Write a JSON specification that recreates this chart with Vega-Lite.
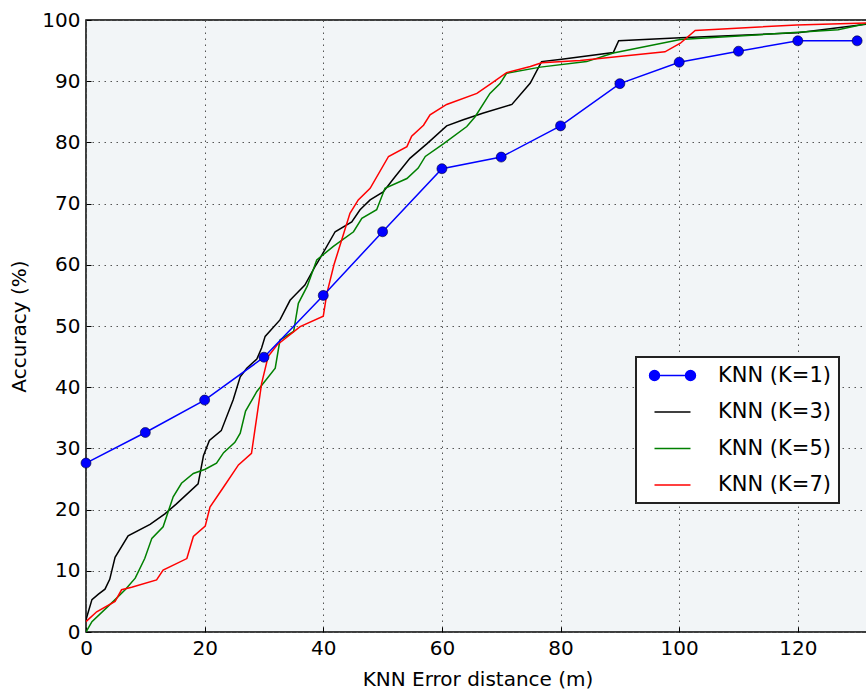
{
  "$schema": "https://vega.github.io/schema/vega-lite/v6.json",
  "autosize": {"type": "none"},
  "padding": {"left": 86, "top": 20, "right": 0, "bottom": 63},
  "width": 783,
  "height": 612,
  "background": "white",
  "config": {
    "view": {"fill": "#f2f5f7", "stroke": "#000000", "strokeWidth": 1.5},
    "font": "DejaVu Sans",
    "axis": {
      "labelFont": "DejaVu Sans", "labelFontSize": 20, "labelColor": "#000000",
      "titleFont": "DejaVu Sans", "titleFontSize": 20, "titleFontWeight": "normal", "titleColor": "#000000",
      "domain": false, "ticks": true, "tickSize": -5, "tickColor": "#000000", "tickWidth": 1,
      "grid": true, "gridColor": "#555555", "gridDash": [1.5, 4.5], "gridWidth": 1, "gridOpacity": 1
    },
    "legend": {
      "orient": "none", "legendX": 550, "legendY": 337,
      "title": null,
      "labelFont": "DejaVu Sans", "labelFontSize": 21, "labelColor": "#000000",
      "strokeColor": "#222222", "strokeWidth": 2, "fillColor": "#ffffff", "cornerRadius": 0,
      "padding": 8, "rowPadding": 14.5, "labelOffset": 53,
      "symbolSize": 324, "symbolStrokeWidth": 1.5, "symbolOpacity": 1
    }
  },
  "datasets": {
    "curves": [
      {"series": "KNN (K=3)", "x": 0, "y": 2.0},
      {"series": "KNN (K=3)", "x": 1, "y": 5.3},
      {"series": "KNN (K=3)", "x": 2.1, "y": 6.2},
      {"series": "KNN (K=3)", "x": 3.2, "y": 7.0},
      {"series": "KNN (K=3)", "x": 4, "y": 8.6},
      {"series": "KNN (K=3)", "x": 4.9, "y": 12.2},
      {"series": "KNN (K=3)", "x": 7.1, "y": 15.7},
      {"series": "KNN (K=3)", "x": 10.8, "y": 17.6},
      {"series": "KNN (K=3)", "x": 13.3, "y": 19.3},
      {"series": "KNN (K=3)", "x": 15.2, "y": 20.9},
      {"series": "KNN (K=3)", "x": 18.9, "y": 24.2},
      {"series": "KNN (K=3)", "x": 19.8, "y": 28.8},
      {"series": "KNN (K=3)", "x": 20.8, "y": 31.3},
      {"series": "KNN (K=3)", "x": 22.8, "y": 32.9},
      {"series": "KNN (K=3)", "x": 24.8, "y": 37.9},
      {"series": "KNN (K=3)", "x": 26, "y": 41.7},
      {"series": "KNN (K=3)", "x": 27.1, "y": 43.1},
      {"series": "KNN (K=3)", "x": 28.8, "y": 44.6},
      {"series": "KNN (K=3)", "x": 29.6, "y": 46.4},
      {"series": "KNN (K=3)", "x": 30.2, "y": 48.3},
      {"series": "KNN (K=3)", "x": 32.7, "y": 51},
      {"series": "KNN (K=3)", "x": 34.4, "y": 54.2},
      {"series": "KNN (K=3)", "x": 35.5, "y": 55.3},
      {"series": "KNN (K=3)", "x": 36.9, "y": 56.7},
      {"series": "KNN (K=3)", "x": 38.6, "y": 59.7},
      {"series": "KNN (K=3)", "x": 39, "y": 60.3},
      {"series": "KNN (K=3)", "x": 42, "y": 65.4},
      {"series": "KNN (K=3)", "x": 44.8, "y": 67},
      {"series": "KNN (K=3)", "x": 46.2, "y": 69},
      {"series": "KNN (K=3)", "x": 47.9, "y": 70.6},
      {"series": "KNN (K=3)", "x": 50.1, "y": 71.9},
      {"series": "KNN (K=3)", "x": 52.1, "y": 74.4},
      {"series": "KNN (K=3)", "x": 54.6, "y": 77.4},
      {"series": "KNN (K=3)", "x": 57.5, "y": 79.8},
      {"series": "KNN (K=3)", "x": 60.8, "y": 82.7},
      {"series": "KNN (K=3)", "x": 63.6, "y": 83.7},
      {"series": "KNN (K=3)", "x": 67, "y": 84.8},
      {"series": "KNN (K=3)", "x": 71.8, "y": 86.2},
      {"series": "KNN (K=3)", "x": 74.9, "y": 89.7},
      {"series": "KNN (K=3)", "x": 76.8, "y": 93.2},
      {"series": "KNN (K=3)", "x": 80.2, "y": 93.6},
      {"series": "KNN (K=3)", "x": 88.9, "y": 94.7},
      {"series": "KNN (K=3)", "x": 89.8, "y": 96.6},
      {"series": "KNN (K=3)", "x": 100.2, "y": 97.1},
      {"series": "KNN (K=3)", "x": 120, "y": 97.9},
      {"series": "KNN (K=3)", "x": 131.5, "y": 99.3},

      {"series": "KNN (K=5)", "x": 0, "y": 0},
      {"series": "KNN (K=5)", "x": 1, "y": 1.7},
      {"series": "KNN (K=5)", "x": 4.6, "y": 5},
      {"series": "KNN (K=5)", "x": 6.6, "y": 6.9},
      {"series": "KNN (K=5)", "x": 8.3, "y": 8.8},
      {"series": "KNN (K=5)", "x": 9.9, "y": 12},
      {"series": "KNN (K=5)", "x": 11.1, "y": 15.3},
      {"series": "KNN (K=5)", "x": 13, "y": 17.2},
      {"series": "KNN (K=5)", "x": 14.7, "y": 22.1},
      {"series": "KNN (K=5)", "x": 16.1, "y": 24.3},
      {"series": "KNN (K=5)", "x": 18.1, "y": 25.9},
      {"series": "KNN (K=5)", "x": 20.1, "y": 26.6},
      {"series": "KNN (K=5)", "x": 22, "y": 27.6},
      {"series": "KNN (K=5)", "x": 23.2, "y": 29.3},
      {"series": "KNN (K=5)", "x": 25.1, "y": 31},
      {"series": "KNN (K=5)", "x": 26, "y": 32.5},
      {"series": "KNN (K=5)", "x": 26.9, "y": 36.1},
      {"series": "KNN (K=5)", "x": 28.8, "y": 39.3},
      {"series": "KNN (K=5)", "x": 31.9, "y": 43.1},
      {"series": "KNN (K=5)", "x": 32.7, "y": 47.7},
      {"series": "KNN (K=5)", "x": 35, "y": 49.1},
      {"series": "KNN (K=5)", "x": 35.8, "y": 53.7},
      {"series": "KNN (K=5)", "x": 37.3, "y": 56.5},
      {"series": "KNN (K=5)", "x": 38.9, "y": 60.8},
      {"series": "KNN (K=5)", "x": 41.7, "y": 63},
      {"series": "KNN (K=5)", "x": 45.1, "y": 65.4},
      {"series": "KNN (K=5)", "x": 46.5, "y": 67.6},
      {"series": "KNN (K=5)", "x": 49, "y": 69},
      {"series": "KNN (K=5)", "x": 50.4, "y": 72.5},
      {"series": "KNN (K=5)", "x": 54.1, "y": 74.1},
      {"series": "KNN (K=5)", "x": 56, "y": 75.8},
      {"series": "KNN (K=5)", "x": 57.2, "y": 77.7},
      {"series": "KNN (K=5)", "x": 60.3, "y": 79.8},
      {"series": "KNN (K=5)", "x": 64.2, "y": 82.6},
      {"series": "KNN (K=5)", "x": 65.6, "y": 84.2},
      {"series": "KNN (K=5)", "x": 68.1, "y": 88},
      {"series": "KNN (K=5)", "x": 69.8, "y": 89.6},
      {"series": "KNN (K=5)", "x": 70.9, "y": 91.3},
      {"series": "KNN (K=5)", "x": 76.6, "y": 92.3},
      {"series": "KNN (K=5)", "x": 84.4, "y": 93.2},
      {"series": "KNN (K=5)", "x": 88.9, "y": 94.6},
      {"series": "KNN (K=5)", "x": 100.2, "y": 96.8},
      {"series": "KNN (K=5)", "x": 126.8, "y": 98.4},
      {"series": "KNN (K=5)", "x": 131.5, "y": 99.4},

      {"series": "KNN (K=7)", "x": 0, "y": 1.7},
      {"series": "KNN (K=7)", "x": 1.8, "y": 3.3},
      {"series": "KNN (K=7)", "x": 4.9, "y": 5},
      {"series": "KNN (K=7)", "x": 6, "y": 6.9},
      {"series": "KNN (K=7)", "x": 7.7, "y": 7.3},
      {"series": "KNN (K=7)", "x": 11.9, "y": 8.5},
      {"series": "KNN (K=7)", "x": 13, "y": 10.1},
      {"series": "KNN (K=7)", "x": 17, "y": 12},
      {"series": "KNN (K=7)", "x": 18.1, "y": 15.6},
      {"series": "KNN (K=7)", "x": 20.1, "y": 17.3},
      {"series": "KNN (K=7)", "x": 20.9, "y": 20.4},
      {"series": "KNN (K=7)", "x": 23.2, "y": 23.7},
      {"series": "KNN (K=7)", "x": 25.7, "y": 27.3},
      {"series": "KNN (K=7)", "x": 27.9, "y": 29.2},
      {"series": "KNN (K=7)", "x": 28.8, "y": 35.2},
      {"series": "KNN (K=7)", "x": 29.6, "y": 40.6},
      {"series": "KNN (K=7)", "x": 30.7, "y": 45},
      {"series": "KNN (K=7)", "x": 32.2, "y": 46.9},
      {"series": "KNN (K=7)", "x": 36.1, "y": 49.9},
      {"series": "KNN (K=7)", "x": 40, "y": 51.6},
      {"series": "KNN (K=7)", "x": 40.6, "y": 55.3},
      {"series": "KNN (K=7)", "x": 41.8, "y": 60},
      {"series": "KNN (K=7)", "x": 44.5, "y": 68.4},
      {"series": "KNN (K=7)", "x": 45.9, "y": 70.6},
      {"series": "KNN (K=7)", "x": 47.9, "y": 72.5},
      {"series": "KNN (K=7)", "x": 51, "y": 77.7},
      {"series": "KNN (K=7)", "x": 54.1, "y": 79.3},
      {"series": "KNN (K=7)", "x": 54.9, "y": 81},
      {"series": "KNN (K=7)", "x": 56.9, "y": 82.8},
      {"series": "KNN (K=7)", "x": 58, "y": 84.5},
      {"series": "KNN (K=7)", "x": 60.8, "y": 86.2},
      {"series": "KNN (K=7)", "x": 65.9, "y": 88},
      {"series": "KNN (K=7)", "x": 68.4, "y": 89.7},
      {"series": "KNN (K=7)", "x": 70.9, "y": 91.4},
      {"series": "KNN (K=7)", "x": 74.9, "y": 92.4},
      {"series": "KNN (K=7)", "x": 76.8, "y": 93},
      {"series": "KNN (K=7)", "x": 83.3, "y": 93.4},
      {"series": "KNN (K=7)", "x": 97.6, "y": 94.8},
      {"series": "KNN (K=7)", "x": 100.2, "y": 96.2},
      {"series": "KNN (K=7)", "x": 102.7, "y": 98.3},
      {"series": "KNN (K=7)", "x": 119.8, "y": 99.2},
      {"series": "KNN (K=7)", "x": 131.5, "y": 99.5}
    ],
    "k1": [
      {"series": "KNN (K=1)", "x": 0, "y": 27.6},
      {"series": "KNN (K=1)", "x": 10, "y": 32.6},
      {"series": "KNN (K=1)", "x": 20, "y": 37.9},
      {"series": "KNN (K=1)", "x": 30, "y": 44.9},
      {"series": "KNN (K=1)", "x": 40, "y": 55},
      {"series": "KNN (K=1)", "x": 50, "y": 65.4},
      {"series": "KNN (K=1)", "x": 60, "y": 75.7},
      {"series": "KNN (K=1)", "x": 70, "y": 77.6},
      {"series": "KNN (K=1)", "x": 80, "y": 82.7},
      {"series": "KNN (K=1)", "x": 90, "y": 89.6},
      {"series": "KNN (K=1)", "x": 100, "y": 93.1},
      {"series": "KNN (K=1)", "x": 110, "y": 94.9},
      {"series": "KNN (K=1)", "x": 120, "y": 96.6},
      {"series": "KNN (K=1)", "x": 130, "y": 96.6}
    ],
    "legendrows": [
      {"series": "KNN (K=1)"},
      {"series": "KNN (K=3)"},
      {"series": "KNN (K=5)"},
      {"series": "KNN (K=7)"}
    ]
  },
  "encoding": {
    "x": {"field": "x", "type": "quantitative", "title": "KNN Error distance (m)",
          "scale": {"domain": [0, 132], "nice": false, "zero": false},
          "axis": {"values": [0, 20, 40, 60, 80, 100, 120], "labelPadding": 11, "titlePadding": 11, "labelFlush": false}},
    "y": {"field": "y", "type": "quantitative", "title": "Accuracy (%)",
          "scale": {"domain": [0, 100], "nice": false},
          "axis": {"values": [0, 10, 20, 30, 40, 50, 60, 70, 80, 90, 100], "labelPadding": 11, "titlePadding": 12, "labelFlush": false}}
  },
  "layer": [
    {
      "data": {"name": "curves"},
      "mark": {"type": "line", "strokeWidth": 1.5, "clip": true},
      "encoding": {
        "stroke": {"field": "series", "type": "nominal",
                   "scale": {"domain": ["KNN (K=1)", "KNN (K=3)", "KNN (K=5)", "KNN (K=7)"], "range": ["#0000ff", "#000000", "#008000", "#ff0000"]}}
      }
    },
    {
      "data": {"name": "k1"},
      "mark": {"type": "line", "strokeWidth": 1.5, "stroke": "#0000ff"},
      "encoding": {}
    },
    {
      "data": {"name": "k1"},
      "mark": {"type": "point", "filled": true, "fill": "#0000ff", "stroke": "#000033", "strokeWidth": 0.6, "size": 100, "opacity": 1},
      "encoding": {}
    },
    {
      "data": {"name": "legendrows"},
      "mark": {"type": "point", "filled": true, "size": 324, "strokeWidth": 1.5, "opacity": 1, "invalid": "filter"},
      "encoding": {
        "stroke": {"field": "series", "type": "nominal"},
        "fill": {"field": "series", "type": "nominal",
                 "scale": {"domain": ["KNN (K=1)", "KNN (K=3)", "KNN (K=5)", "KNN (K=7)"], "range": ["#0000ff", "#000000", "#008000", "#ff0000"]}},
        "shape": {"field": "series", "type": "nominal",
                  "scale": {"domain": ["KNN (K=1)", "KNN (K=3)", "KNN (K=5)", "KNN (K=7)"],
                            "range": ["M0,0L4,0M-0.55,0A0.55,0.55 0 1,0 0.55,0A0.55,0.55 0 1,0 -0.55,0ZM3.45,0A0.55,0.55 0 1,0 4.55,0A0.55,0.55 0 1,0 3.45,0Z", "M0,0L4,0", "M0,0L4,0", "M0,0L4,0"]}}
      }
    }
  ]
}
